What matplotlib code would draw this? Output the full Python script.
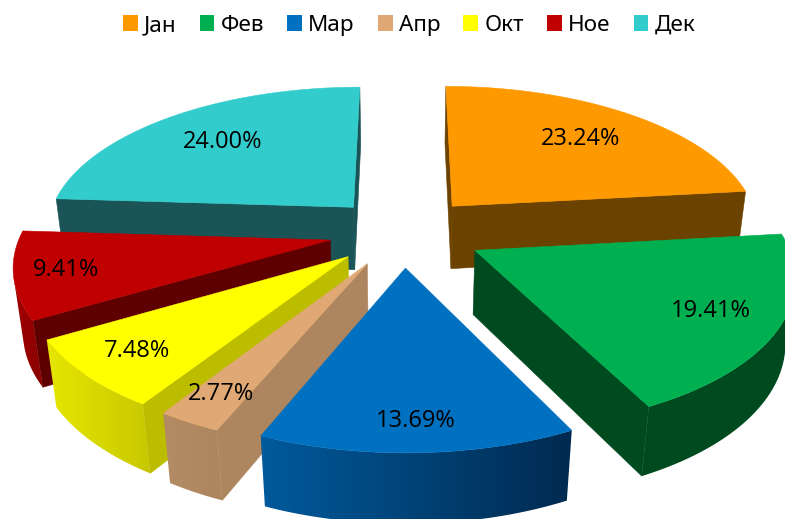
import numpy as np
import matplotlib
matplotlib.use("Agg")
import matplotlib.pyplot as plt
from matplotlib.patches import Polygon, Patch

months = ["Јан", "Фев", "Мар", "Апр", "Окт", "Ное", "Дек"]
shares = [23.24, 19.41, 13.69, 2.77, 7.48, 9.41, 24.00]
top_colors = ["#FF9900", "#00B050", "#0070C0", "#E0A875", "#FFFF00", "#C00000", "#33CCCC"]
radial_colors = ["#6B4200", "#004A20", "#003A70", "#AD8660", "#BDBD00", "#5E0000", "#1A5456"]
arc_left = ["#6B4200", "#004A20", "#005A9C", "#B38B64", "#E6E600", "#A00000", "#1A5456"]
arc_right = ["#6B4200", "#004A20", "#002A50", "#AD8660", "#C8C800", "#8A0000", "#1A5456"]
label_radius = [0.71, 0.79, 0.85, 0.84, 0.82, 0.84, 0.70]
explode = [0.245, 0.26, 0.24, 0.24, 0.24, 0.24, 0.24]

CX, CY = 403, 232
A, B, C = 309, 145, 65
K, M = 0.15, 0.025


def project(X, Y, Z):
    w = 1 + K * np.asarray(Y) - M * np.asarray(Z)
    return CX + A * np.asarray(X) / w, CY + (-B * np.asarray(Y) - C * np.asarray(Z)) / w


def quad_area(p, q):
    xs, ys = project([p[0], q[0], q[0], p[0]], [p[1], q[1], q[1], p[1]], [0, 0, -1, -1])
    return 0.5 * np.sum(xs * np.roll(ys, -1) - np.roll(xs, -1) * ys), xs, ys


fig = plt.figure(figsize=(7.85, 5.19), dpi=100)
ax = fig.add_axes([0, 0, 1, 1])
ax.axis("off")

edges = np.cumsum([0] + shares) / sum(shares) * 2 * np.pi
slices = []
for i in range(len(shares)):
    a0, a1 = edges[i], edges[i + 1]
    mid = (a0 + a1) / 2
    slices.append((np.cos(mid), i, a0, a1, mid))


def draw_radial(p, q, color, z):
    area, xs, ys = quad_area(p, q)
    if area < 0:
        ax.add_patch(Polygon(np.c_[xs, ys], closed=True, facecolor=color, edgecolor=color,
                             lw=0.4, zorder=z))


for _, i, a0, a1, mid in sorted(slices, key=lambda s: -s[0]):
    ox, oy = explode[i] * np.sin(mid), explode[i] * np.cos(mid)
    t = np.linspace(a0, a1, 120)
    rimx, rimy = ox + np.sin(t), oy + np.cos(t)
    z = 10 + (1 - np.cos(mid))
    apex = (ox, oy)
    draw_radial(apex, (rimx[0], rimy[0]), radial_colors[i], z)
    draw_radial((rimx[-1], rimy[-1]), apex, radial_colors[i], z)

    # curved outer face: only its camera-facing part, filled with a smooth gradient
    vis = [j for j in range(len(t) - 1)
           if quad_area((rimx[j], rimy[j]), (rimx[j + 1], rimy[j + 1]))[0] < 0]
    if vis:
        idx = np.r_[vis, vis[-1] + 1]
        xt, yt = project(rimx[idx], rimy[idx], 0 * idx)
        xb, yb = project(rimx[idx], rimy[idx], 0 * idx - 1)
        outline = np.c_[np.r_[xt, xb[::-1]], np.r_[yt, yb[::-1]]]
        patch = Polygon(outline, closed=True, facecolor="none", edgecolor="none", zorder=z)
        ax.add_patch(patch)
        lo, hi = outline[:, 0].min(), outline[:, 0].max()
        cmap = matplotlib.colors.LinearSegmentedColormap.from_list("g", [arc_left[i], arc_right[i]])
        im = ax.imshow(np.linspace(0, 1, 256)[None, :], cmap=cmap, aspect="auto",
                       extent=(lo, hi, outline[:, 1].max(), outline[:, 1].min()), zorder=z + 0.01)
        im.set_clip_path(patch)

    tx, ty = project(np.r_[ox, rimx], np.r_[oy, rimy], np.zeros(len(t) + 1))
    ax.add_patch(Polygon(np.c_[tx, ty], closed=True, facecolor=top_colors[i],
                         edgecolor=top_colors[i], lw=0.4, zorder=z + 0.02))
    lx, ly = project(ox + label_radius[i] * np.sin(mid), oy + label_radius[i] * np.cos(mid), 0.0)
    ax.text(lx, ly, f"{shares[i]:.2f}%", ha="center", va="center", fontsize=17,
            family="Open Sans", color="black", zorder=50)

ax.set_xlim(0, 785)
ax.set_ylim(519, 0)

handles = [Patch(facecolor=c, edgecolor="none") for c in top_colors]
ax.legend(handles, months, ncol=7, frameon=False, loc="upper center",
          bbox_to_anchor=(409 / 785, 1 - 15 / 519),
          prop={"family": "Noto Sans", "size": 16.2}, handlelength=0.66, handleheight=0.75,
          handletextpad=0.27, columnspacing=1.03, borderpad=0, borderaxespad=0)

fig.savefig("out.png", dpi=100)
